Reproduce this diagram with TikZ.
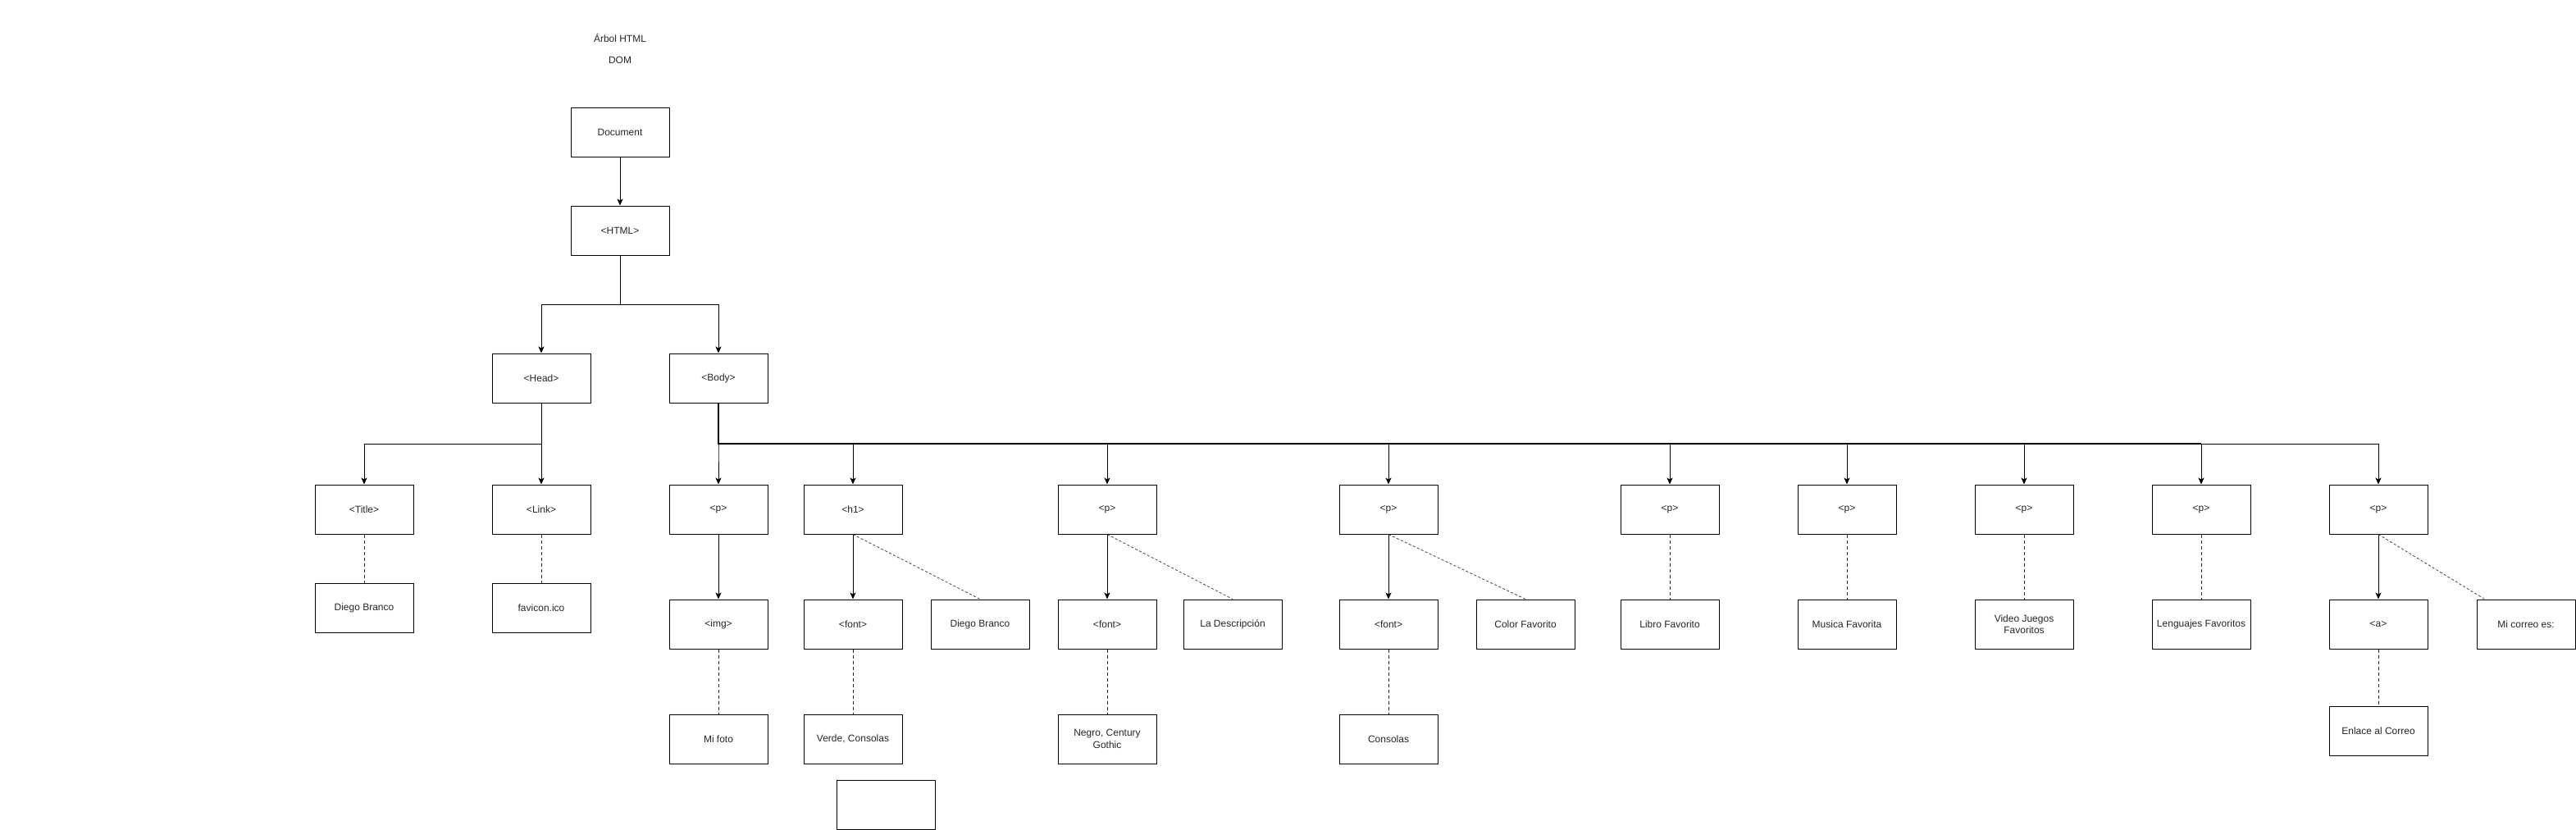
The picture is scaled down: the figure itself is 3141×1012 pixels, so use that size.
\documentclass[tikz,border=0pt]{standalone}
\usepackage{fontspec}
\setmainfont{Liberation Sans}
\usepackage{tikz}
\usetikzlibrary{arrows.meta,positioning}
\tikzset{
  box/.style={rectangle,draw=black,line width=1pt,minimum width=120pt,minimum height=60pt,inner sep=2pt,align=center,text=black!85,font=\fontsize{12}{14.4}\selectfont},
  lab/.style={text=black!85,font=\fontsize{12}{14.4}\selectfont},
  tree/.style={line width=1pt,black,-{Stealth[length=8pt,width=7pt,inset=2pt]}},
  trunk/.style={line width=2pt,black},
  leaf/.style={line width=.8pt,black!85,dash pattern=on 4pt off 3pt},
  attr/.style={line width=.8pt,black!75,dash pattern=on 3pt off 2.5pt}
}

\begin{document}
\begin{tikzpicture}[x=1pt,y=-1pt]
  \useasboundingbox (0,0) rectangle (3141,1012);

  \node[lab] (T) at (756,46) {Árbol HTML};
  \node[lab] (T2) at (756,73) {DOM};

  \node[box] (Doc) at (756,161) {Document};
  \node[box] (HTML) at (756,281) {<HTML>};
  \node[box] (Head) at (660,461) {<Head>};
  \node[box] (Body) at (876,461) {<Body>};
  \draw[tree] (Doc)--(HTML);
  \draw[tree] (HTML.south)--++(0,60)-|(Head.north);
  \draw[tree] (HTML.south)--++(0,60)-|(Body.north);

  \node[box] (Ti) at (444,621) {<Title>};
  \node[box] (Li) at (660,621) {<Link>};
  \node[box] (TiV) at (444,741) {Diego Branco};
  \node[box] (LiV) at (660,741) {favicon.ico};
  \draw[tree] (Head.south)--++(0,50)-|(Ti.north);
  \draw[tree] (Head)--(Li);
  \draw[leaf] (Ti)--(TiV);
  \draw[leaf] (Li)--(LiV);

  \node[box] (P1) at (876,621) {<p>};
  \node[box] (H1) at (1040,621) {<h1>};
  \node[box] (P2) at (1350,621) {<p>};
  \node[box] (P3) at (1693,621) {<p>};
  \node[box] (P4) at (2036,621) {<p>};
  \node[box] (P5) at (2252,621) {<p>};
  \node[box] (P6) at (2468,621) {<p>};
  \node[box] (P7) at (2684,621) {<p>};
  \node[box] (P8) at (2900,621) {<p>};
  \coordinate (bus) at (876,541);
  \foreach \c in {P1,H1,P2,P3,P4,P5,P6,P7,P8}
    \draw[tree] (Body.south)--(bus)-|(\c.north);
  \draw[trunk] (Body.south)--(bus)--(bus-|P7.north);

  \node[box] (Img) at (876,761) {<img>};
  \node[box] (F1) at (1040,761) {<font>};
  \node[box] (N1) at (1195,761) {Diego Branco};
  \node[box] (F2) at (1350,761) {<font>};
  \node[box] (D2) at (1503,761) {La Descripción};
  \node[box] (F3) at (1693,761) {<font>};
  \node[box] (C3) at (1860,761) {Color Favorito};
  \node[box] (L4) at (2036,761) {Libro Favorito};
  \node[box] (M5) at (2252,761) {Musica Favorita};
  \node[box] (V6) at (2468,761) {Video Juegos\\Favoritos};
  \node[box] (G7) at (2684,761) {Lenguajes Favoritos};
  \node[box] (A8) at (2900,761) {<a>};
  \node[box] (E8) at (3080,761) {Mi correo es:};
  \draw[tree] (P1)--(Img);
  \draw[tree] (H1)--(F1);
  \draw[tree] (P2)--(F2);
  \draw[tree] (P3)--(F3);
  \draw[tree] (P8)--(A8);
  \draw[attr] (H1.south)--(N1.north);
  \draw[attr] (P2.south)--(D2.north);
  \draw[attr] (P3.south)--(C3.north);
  \draw[attr] (P8.south)--([xshift=10pt]E8.north west);
  \draw[leaf] (P4)--(L4);
  \draw[leaf] (P5)--(M5);
  \draw[leaf] (P6)--(V6);
  \draw[leaf] (P7)--(G7);

  \node[box] (Foto) at (876,901) {Mi foto};
  \node[box] (VC) at (1040,901) {Verde, Consolas};
  \node[box] (NG) at (1350,901) {Negro, Century\\Gothic};
  \node[box] (Co) at (1693,901) {Consolas};
  \node[box] (Enl) at (2900,891) {Enlace al Correo};
  \node[box] (X) at (1080,981) {};
  \draw[leaf] (Img)--(Foto);
  \draw[leaf] (F1)--(VC);
  \draw[leaf] (F2)--(NG);
  \draw[leaf] (F3)--(Co);
  \draw[leaf] (A8)--(Enl);
\end{tikzpicture}
\end{document}
